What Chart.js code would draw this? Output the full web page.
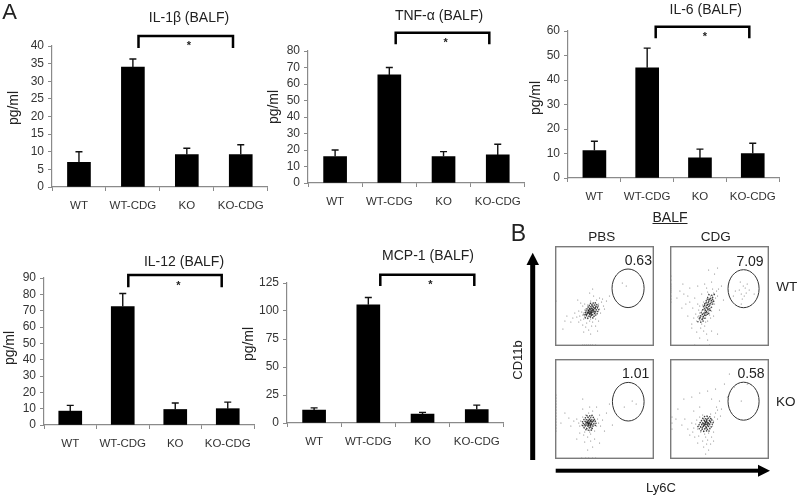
<!DOCTYPE html>
<html>
<head>
<meta charset="utf-8">
<title>BALF cytokines</title>
<script src="https://cdn.jsdelivr.net/npm/chart.js@4"></script>
<style>
    html, body { margin: 0; padding: 0; background: #fff; }
    #page { position: relative; width: 800px; height: 496px; overflow: hidden; background: #fff; filter: blur(0.4px);
        font-family: "Liberation Sans", Arial, sans-serif; color: #222; }
    #page canvas { position: absolute; }
    #page svg { position: absolute; left: 0; top: 0; }
    .txt { position: absolute; white-space: nowrap; transform: translate(-50%, -50%); line-height: 1; }
</style>
</head>
<body>
<div id="page"></div>
<script>
const categories = ['WT', 'WT-CDG', 'KO', 'KO-CDG'];

const il1bValues = [7, 34, 9.2, 9.2];
const il1bUpper = [3, 2.3, 1.8, 2.8];
const il1bTicks = { max: 40, step: 5 };

const tnfValues = [16, 65.5, 16, 17];
const tnfUpper = [4, 4.5, 3, 6.5];
const tnfTicks = { max: 80, step: 10 };

const il6Values = [11.2, 45, 8.2, 10];
const il6Upper = [3.8, 8, 3.6, 4.2];
const il6Ticks = { max: 60, step: 10 };

const il12Values = [8.5, 72.5, 9.5, 10];
const il12Upper = [3.5, 8, 4, 4];
const il12Ticks = { max: 90, step: 10 };

const mcpValues = [11.5, 105.5, 8, 12];
const mcpUpper = [2, 6.5, 1.5, 4];
const mcpTicks = { max: 125, step: 25 };

// flow plots, both axes 0-100
const pbsWT = [[36,35],[38,37],[34,33],[33,36],[37,32],[40,38],[35,38],[31,34],[39,35],[36,30],[42,40],[32,31],[34,39],[37,40],[41,36],[29,33],[38,31],[33,29],[35,35],[36,37],[40,33],[31,37],[43,39],[30,30],[37,34],[34,36],[39,39],[32,34],[35,32],[38,36],[41,41],[28,31],[33,33],[36,33],[37,38],[35,40],[30,36],[42,35],[34,30],[39,32],[44,42],[27,34],[31,28],[36,27],[40,30],[45,37],[33,41],[38,42],[29,27],[25,30],[47,44],[24,35],[35,25],[41,27],[46,33],[30,42],[42,46],[26,26],[38,24],[32,23],[22,29],[49,40],[48,47],[36,45],[28,40],[20,33],[31,19],[37,20],[44,25],[24,24],[41,20],[34,16],[28,21],[52,45],[50,37],[18,28],[16,24],[26,43],[45,48],[39,50],[35,53],[38,57],[23,46],[43,15],[36,12],[29,14],[12,30],[8,17],[10,25],[55,50],[1,45],[72,60],[68,63],[30,1],[34,1],[38,1],[28,1],[41,1],[32,1],[36,1]];
const cdgWT = [[37,38],[35,35],[39,42],[33,32],[41,44],[36,40],[38,36],[34,37],[40,40],[32,30],[42,48],[36,33],[39,46],[35,42],[37,44],[31,28],[43,50],[33,36],[41,38],[38,41],[34,30],[36,28],[44,46],[30,33],[35,39],[40,47],[37,32],[32,35],[42,42],[34,44],[39,35],[38,49],[33,27],[45,52],[29,30],[36,36],[41,50],[31,25],[43,45],[35,31],[37,47],[40,36],[30,26],[44,53],[34,33],[39,52],[28,29],[46,48],[32,22],[36,24],[42,35],[47,55],[33,41],[38,54],[29,36],[40,31],[27,25],[48,50],[35,20],[31,18],[26,32],[38,25],[43,57],[37,58],[24,28],[30,40],[45,42],[22,22],[34,15],[41,28],[49,57],[28,42],[27,14],[37,12],[44,30],[23,38],[20,44],[18,50],[14,52],[10,55],[16,42],[25,48],[32,52],[28,60],[35,62],[42,64],[45,72],[48,78],[39,76],[7,48],[12,38],[18,30],[22,18],[30,8],[38,6],[42,15],[48,12],[52,60],[54,46],[50,36],[13,62],[20,58],[1,62],[1,58],[1,54],[1,50],[1,66],[1,47],[1,70],[1,44],[1,56],[1,60],[70,56],[74,60],[76,58],[72,52],[78,62],[73,47],[80,56],[66,55],[75,50],[71,64],[77,53],[72,42],[64,50],[85,52],[25,1],[40,1]];
const pbsKO = [[34,36],[32,34],[36,38],[35,33],[31,37],[37,35],[33,39],[38,37],[30,35],[34,32],[36,34],[33,36],[35,40],[29,33],[39,39],[32,31],[37,31],[31,40],[40,36],[34,38],[28,37],[36,29],[35,36],[38,33],[30,31],[33,42],[41,38],[27,34],[33,29],[39,42],[35,27],[26,38],[42,33],[31,44],[37,43],[30,27],[43,40],[25,33],[36,25],[28,42],[44,36],[34,46],[40,28],[24,36],[29,24],[38,48],[33,22],[46,33],[22,40],[45,44],[19,38],[36,18],[40,20],[30,17],[25,26],[48,39],[35,52],[28,50],[42,52],[16,33],[14,41],[52,46],[10,46],[6,36],[38,12],[33,9],[45,16],[22,20],[50,28],[58,34],[55,55],[28,60],[78,58],[82,55],[70,52],[1,28],[1,31],[1,34],[1,37],[1,40],[1,43],[1,46],[1,49],[1,52],[1,55],[1,58],[1,61],[1,64],[27,1],[31,1],[34,1],[38,1],[41,1]];
const cdgKO = [[36,35],[34,33],[38,37],[35,38],[37,32],[33,36],[39,35],[32,34],[36,31],[40,38],[34,40],[38,33],[31,32],[35,35],[37,39],[41,36],[30,36],[33,30],[39,41],[36,37],[29,33],[42,40],[34,28],[40,31],[32,38],[44,38],[28,30],[37,43],[31,27],[43,33],[26,35],[35,25],[45,42],[27,39],[39,26],[24,31],[41,45],[33,44],[46,46],[36,22],[30,42],[48,40],[23,27],[44,27],[29,23],[42,22],[38,19],[33,18],[25,22],[48,49],[22,36],[51,43],[37,15],[41,15],[34,12],[39,9],[36,5],[28,16],[44,18],[18,30],[20,24],[47,52],[52,50],[15,40],[12,34],[24,48],[30,52],[14,60],[8,50],[22,62],[30,66],[38,68],[46,70],[55,75],[60,85],[58,62],[50,58],[65,72],[72,58],[78,75],[42,60],[6,40],[2,42],[2,30],[2,36]];

// the dark middle of each population
const pbsWTCore = [[30.5,28.2],[33.1,27.6],[35.8,28.9],[38.2,28.1],[31.7,30.3],[34.4,29.8],[36.9,30.6],[39.3,29.7],[41.2,30.9],[29.4,31.2],[32.2,31.8],[34.9,32.1],[37.5,31.5],[40.1,32.4],[42.6,32.2],[30.6,33.4],[33.3,33.7],[35.6,33.2],[38.4,33.9],[40.9,34.1],[43.2,34.4],[31.4,35.2],[34.1,35.6],[36.7,35.1],[39.2,35.7],[41.8,36.2],[44.1,36.3],[32.3,37.1],[35.2,37.4],[37.8,37],[40.4,37.6],[42.9,38.1],[33.4,38.9],[36.1,39.2],[38.7,38.8],[41.3,39.4],[43.6,40],[34.6,40.7],[37.2,41.1],[39.8,40.9],[42.2,41.5],[35.9,42.6],[38.6,42.9],[40.7,43.1],[35.3,34.4],[36.2,36.3],[37.1,33.6],[34.7,36.9],[38.9,36.8],[33.6,34.9],[36.4,32.6],[39.7,34.2],[35.4,31.2],[37.9,35.3],[32.7,32.9],[40.8,38.3],[38.1,39.9],[34.2,33.1],[36.8,37.8],[31.1,31.6]];
const cdgWTCore = [[28.2,24.3],[31.1,23.7],[33.4,24.9],[29.6,27.2],[32.4,26.6],[35.2,27.8],[30.8,30.1],[33.6,29.4],[36.2,30.6],[31.5,33.2],[34.4,32.7],[37.3,33.5],[39.1,32.6],[33.1,36.3],[35.7,35.8],[38.4,36.4],[40.6,35.6],[33.8,39.2],[36.6,38.7],[39.1,39.4],[41.9,38.8],[35.2,42.3],[38.1,41.6],[40.6,42.4],[43.2,41.9],[36.6,45.2],[39.2,44.7],[41.8,45.4],[44.1,44.6],[38.1,48.3],[40.7,47.6],[43.1,48.4],[39.4,51.2],[42.1,50.7],[44.6,51.4],[34.9,30.9],[32.7,31.6],[36.8,34.6],[35.1,37.3],[37.7,37.9],[39.6,37.2],[37.2,40.8],[34.8,40.6],[40.2,40.9],[38.6,43.5],[36.4,43.1],[42.3,43.7],[40.1,46.3],[38.3,46.6],[30.3,28.4],[33.3,27.9],[37.9,31.8],[35.6,33.4],[42.9,46.8]];
const pbsKOCore = [[29.3,31.2],[32.1,30.4],[34.8,31.1],[37.6,30.6],[27.9,33.4],[30.6,33.1],[33.2,32.8],[35.9,33.3],[38.4,32.9],[40.7,33.6],[28.6,35.4],[31.3,35.2],[33.9,34.9],[36.7,35.3],[39.1,35.1],[41.4,35.8],[27.8,37.3],[30.4,37.6],[32.8,37.1],[35.4,37.4],[38.1,37.2],[40.6,37.7],[29.2,39.4],[31.9,39.2],[34.6,39.6],[37.2,39.1],[39.8,39.6],[30.7,41.3],[33.4,41.6],[36.1,41.2],[38.6,41.4],[32.2,43.4],[35.1,43.1],[37.4,43.6],[31.2,29.2],[34.2,28.7],[36.8,28.9],[33.1,36.1],[35.2,35.7],[34.1,33.6],[32.4,33.9],[36.8,37.1],[34.4,36.3],[31.7,36.6],[37.3,34.2],[33.6,38.2],[35.8,38.6],[30.1,34.3],[38.9,38.3],[36.1,31.9],[33.7,35.3],[35.6,34.4]];
const cdgKOCore = [[29.6,30.3],[32.4,29.8],[35.1,30.1],[37.8,29.6],[40.3,30.2],[28.2,32.4],[30.9,32.1],[33.6,32.6],[36.2,32.2],[38.9,32.5],[41.6,32.1],[29.4,34.3],[32.1,34.6],[34.7,34.2],[37.4,34.6],[40.1,34.3],[42.7,34.7],[30.6,36.5],[33.2,36.2],[35.9,36.6],[38.6,36.3],[41.2,36.7],[43.6,36.4],[31.8,38.4],[34.4,38.7],[37.1,38.2],[39.7,38.6],[42.3,38.9],[33.1,40.6],[35.8,40.3],[38.4,40.7],[41.1,40.4],[34.9,42.4],[37.6,42.7],[40.2,42.3],[31.3,28.2],[34.1,27.6],[36.9,28.1],[39.4,27.9],[34.4,33.4],[36.1,34.3],[35.4,35.6],[37.6,35.9],[33.7,35.2],[36.7,31.1],[38.1,33.7],[39.4,35.4],[36.9,37.3],[35.1,37.9],[32.6,31.3],[40.6,37.7],[37.3,39.6]];

const gatePbsWT = { cx: 73.8, cy: 57.7, rx: 16.2, ry: 19.3 };
const gateCdgWT = { cx: 74.3, cy: 57.3, rx: 15.7, ry: 19 };
const gatePbsKO = { cx: 74, cy: 57.3, rx: 16, ry: 19.3 };
const gateCdgKO = { cx: 74.3, cy: 57.8, rx: 15.7, ry: 19 };

const page = document.getElementById('page');

function addText(text, x, y, size, opts) {
    const el = document.createElement('div');
    el.className = 'txt';
    el.textContent = text;
    el.style.left = x + 'px';
    el.style.top = y + 'px';
    el.style.fontSize = size + 'px';
    if (opts && opts.rotate) el.style.transform = 'translate(-50%, -50%) rotate(-90deg)';
    if (opts && opts.underline) el.style.textDecoration = 'underline';
    if (opts && opts.bold) el.style.fontWeight = 'bold';
    page.appendChild(el);
}

function addCanvas(left, top, width, height) {
    const c = document.createElement('canvas');
    c.width = width;
    c.height = height;
    c.style.left = left + 'px';
    c.style.top = top + 'px';
    c.style.width = width + 'px';
    c.style.height = height + 'px';
    page.appendChild(c);
    return c;
}

// upper error whiskers, only the top half like the original figure
const upperErrors = {
    id: 'upperErrors',
    afterDatasetsDraw(chart, args, opts) {
        const ctx = chart.ctx;
        const x = chart.scales.x, y = chart.scales.y;
        ctx.save();
        ctx.strokeStyle = '#111';
        ctx.lineWidth = 1.4;
        chart.data.datasets[0].data.forEach((v, i) => {
            const px = x.getPixelForValue(i);
            const top = y.getPixelForValue(v + opts.upper[i]);
            ctx.beginPath();
            ctx.moveTo(px, y.getPixelForValue(v));
            ctx.lineTo(px, top);
            ctx.moveTo(px - 3.5, top);
            ctx.lineTo(px + 3.5, top);
            ctx.stroke();
        });
        ctx.restore();
    }
};

function barPanel(box, values, upper, ticks) {
    const yWidth = 40, pad = 12, xHeight = 28;
    const c = addCanvas(box.left - yWidth, box.top - pad, box.right - box.left + yWidth + 2, box.bottom - box.top + pad + xHeight);
    new Chart(c, {
        type: 'bar',
        data: {
            labels: categories,
            datasets: [{ data: values, backgroundColor: '#000', barThickness: 23 }]
        },
        plugins: [upperErrors],
        options: {
            responsive: false,
            animation: false,
            devicePixelRatio: 1,
            layout: { padding: { top: pad, right: 2, left: 0, bottom: 0 } },
            plugins: {
                legend: { display: false },
                tooltip: { enabled: false },
                upperErrors: { upper: upper }
            },
            scales: {
                x: {
                    offset: true,
                    afterFit: s => { s.height = xHeight; },
                    border: { color: '#8a8a8a', width: 1.2 },
                    grid: { offset: true, drawOnChartArea: false, drawTicks: true, tickLength: 4, color: '#8a8a8a' },
                    ticks: { color: '#333', font: { family: 'Liberation Sans', size: 11.5 }, padding: 8, maxRotation: 0, autoSkip: false }
                },
                y: {
                    min: 0,
                    max: ticks.max,
                    afterFit: s => { s.width = yWidth; },
                    border: { color: '#8a8a8a', width: 1.2 },
                    grid: { drawOnChartArea: false, drawTicks: true, tickLength: 4, color: '#8a8a8a' },
                    ticks: { stepSize: ticks.step, autoSkip: false, color: '#333', font: { family: 'Liberation Sans', size: 12 }, padding: 4 }
                }
            }
        }
    });
}

const flowFrame = {
    id: 'flowFrame',
    afterDatasetsDraw(chart, args, opts) {
        const ctx = chart.ctx;
        const a = chart.chartArea;
        const x = chart.scales.x, y = chart.scales.y;
        const g = opts.gate;
        ctx.save();
        ctx.strokeStyle = '#7a7a7a';
        ctx.lineWidth = 1.4;
        ctx.strokeRect(a.left + 0.7, a.top + 0.7, a.right - a.left - 1.4, a.bottom - a.top - 1.4);
        ctx.strokeStyle = '#333';
        ctx.lineWidth = 1;
        ctx.beginPath();
        ctx.ellipse(x.getPixelForValue(g.cx), y.getPixelForValue(g.cy),
            Math.abs(x.getPixelForValue(g.rx) - x.getPixelForValue(0)),
            Math.abs(y.getPixelForValue(g.ry) - y.getPixelForValue(0)), 0, 0, Math.PI * 2);
        ctx.stroke();
        ctx.restore();
    }
};

function flowPanel(left, top, points, core, gate) {
    const c = addCanvas(left, top, 99, 100);
    new Chart(c, {
        type: 'scatter',
        data: {
            datasets: [
                {
                    data: points.map(p => ({ x: p[0], y: p[1] })),
                    pointRadius: 0.6,
                    borderWidth: 0,
                    backgroundColor: 'rgba(0,0,0,0.5)'
                },
                {
                    data: core.map(p => ({ x: p[0], y: p[1] })),
                    pointRadius: 0.8,
                    borderWidth: 0,
                    backgroundColor: 'rgba(0,0,0,0.75)'
                }
            ]
        },
        plugins: [flowFrame],
        options: {
            responsive: false,
            animation: false,
            devicePixelRatio: 1,
            layout: { autoPadding: false },
            plugins: {
                legend: { display: false },
                tooltip: { enabled: false },
                flowFrame: { gate: gate }
            },
            scales: {
                x: { display: false, min: 0, max: 100 },
                y: { display: false, min: 0, max: 100 }
            }
        }
    });
}

barPanel({ left: 52, top: 46, bottom: 187, right: 270 }, il1bValues, il1bUpper, il1bTicks);
barPanel({ left: 308, top: 51, bottom: 183, right: 527 }, tnfValues, tnfUpper, tnfTicks);
barPanel({ left: 568, top: 31, bottom: 178, right: 782 }, il6Values, il6Upper, il6Ticks);
barPanel({ left: 44, top: 278, bottom: 425, right: 257 }, il12Values, il12Upper, il12Ticks);
barPanel({ left: 287, top: 283, bottom: 423, right: 506 }, mcpValues, mcpUpper, mcpTicks);

flowPanel(555, 246, pbsWT, pbsWTCore, gatePbsWT);
flowPanel(670, 246, cdgWT, cdgWTCore, gateCdgWT);
flowPanel(555, 359, pbsKO, pbsKOCore, gatePbsKO);
flowPanel(670, 359, cdgKO, cdgKOCore, gateCdgKO);

// brackets and the two big arrows of panel B
const brackets = [
    [138.5, 233, 36, 48],
    [395.7, 489.3, 32.7, 44.3],
    [655.7, 749.3, 26.7, 38.3],
    [128.3, 221.7, 275, 287.3],
    [380.3, 474.3, 274.7, 286]
];
let svg = '<svg width="800" height="496" xmlns="http://www.w3.org/2000/svg">';
brackets.forEach(b => {
    svg += `<polyline points="${b[0]},${b[3]} ${b[0]},${b[2]} ${b[1]},${b[2]} ${b[1]},${b[3]}" fill="none" stroke="#000" stroke-width="2.5"/>`;
});
svg += '<rect x="530.2" y="263" width="5" height="197" fill="#000"/>';
svg += '<polygon points="532.7,252.7 526.5,265 539,265" fill="#000"/>';
svg += '<rect x="555.7" y="468.7" width="204" height="4" fill="#000"/>';
svg += '<polygon points="770,470.7 758,464.7 758,476.7" fill="#000"/>';
svg += '</svg>';
page.insertAdjacentHTML('beforeend', svg);

addText('A', 9.5, 12, 22);
addText('B', 518.3, 233, 23);

addText('IL-1β (BALF)', 189, 17, 14);
addText('TNF-α (BALF)', 439, 15, 14);
addText('IL-6 (BALF)', 705.7, 9, 14);
addText('IL-12 (BALF)', 184, 260.7, 14);
addText('MCP-1 (BALF)', 428, 255, 14);

addText('pg/ml', 13, 108, 14, { rotate: true });
addText('pg/ml', 272.7, 106.7, 14, { rotate: true });
addText('pg/ml', 535, 98, 14, { rotate: true });
addText('pg/ml', 8.5, 348, 14, { rotate: true });
addText('pg/ml', 248.3, 344, 14, { rotate: true });

addText('*', 189, 45, 11, { bold: true });
addText('*', 445.7, 42, 11, { bold: true });
addText('*', 705, 36, 11, { bold: true });
addText('*', 178.3, 285, 11, { bold: true });
addText('*', 430.3, 284, 11, { bold: true });

addText('BALF', 670, 216.7, 14, { underline: true });
addText('PBS', 601.7, 237.3, 13.5);
addText('CDG', 715.7, 237.3, 13.5);
addText('WT', 786.7, 287.3, 13.5);
addText('KO', 785.7, 401.7, 13.5);
addText('CD11b', 516.7, 360, 13, { rotate: true });
addText('Ly6C', 661, 486.7, 13);
addText('0.63', 638.3, 260, 14);
addText('7.09', 750, 260.7, 14);
addText('1.01', 635.7, 373.3, 14);
addText('0.58', 751, 372.7, 14);
</script>
</body>
</html>
